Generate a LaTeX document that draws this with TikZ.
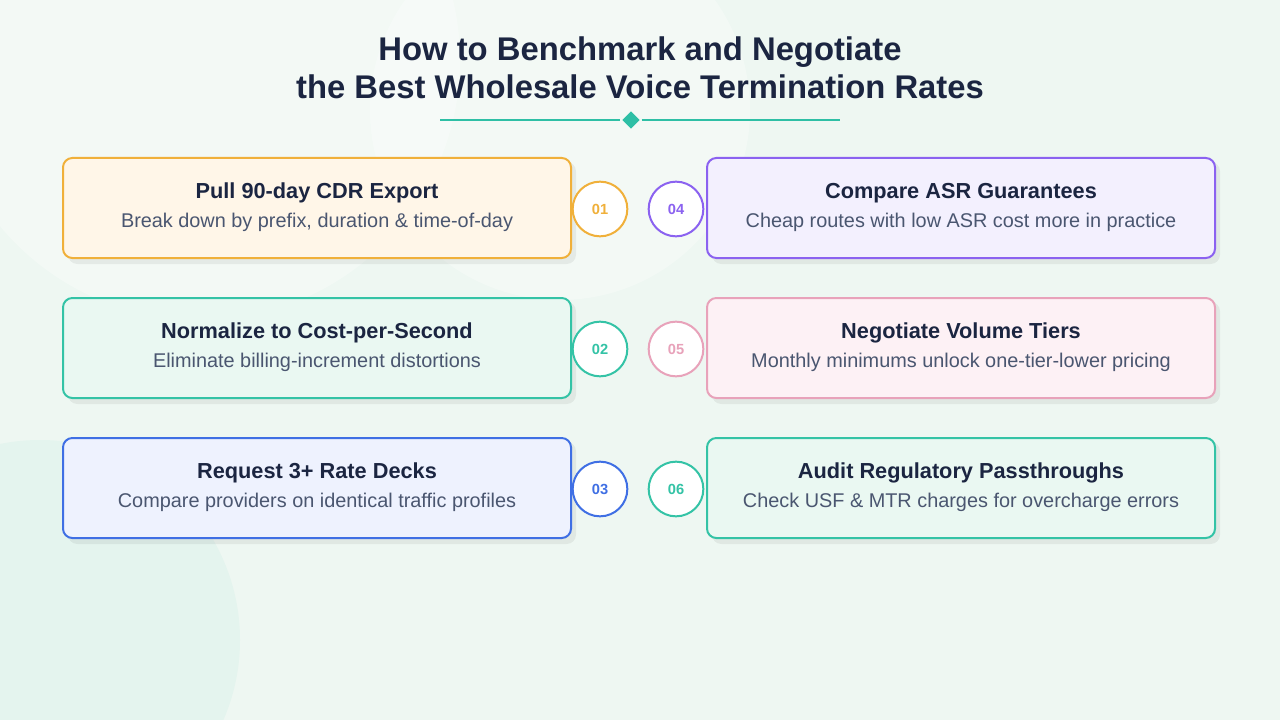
\documentclass[tikz,border=0pt]{standalone}
\usepackage{fontspec}
\setmainfont{Liberation Sans}
\usetikzlibrary{shapes.geometric}
\definecolor{bg}{HTML}{EEF7F2}
\definecolor{ttl}{HTML}{1B2541}
\definecolor{sub}{HTML}{4A5670}
\definecolor{teal}{HTML}{2EBFA5}
\definecolor{orc}{HTML}{F0B03A}\definecolor{orf}{HTML}{FFF6E8}
\definecolor{tec}{HTML}{34C3A6}\definecolor{tef}{HTML}{EAF8F2}
\definecolor{blc}{HTML}{3F6FE4}\definecolor{blf}{HTML}{EEF2FE}
\definecolor{puc}{HTML}{8B62F0}\definecolor{puf}{HTML}{F3F0FE}
\definecolor{pic}{HTML}{E8A2BA}\definecolor{pif}{HTML}{FDF1F5}
\tikzset{
 card/.style={draw=#1, line width=1.5pt, rounded corners=7pt, minimum width=381pt, minimum height=75pt, inner sep=0pt},
 num/.style={circle, draw=#1, line width=1.5pt, fill=white, minimum size=41pt, inner sep=0pt, text=#1, font=\bfseries\fontsize{11}{13}\selectfont},
 head/.style={font=\bfseries\fontsize{16.3}{19}\selectfont, text=ttl},
 desc/.style={font=\fontsize{14.9}{17}\selectfont, text=sub}
}
\begin{document}
\begin{tikzpicture}[x=0.75pt,y=-0.75pt]
\useasboundingbox (0,0) rectangle (1280,720);
\fill[bg] (0,0) rectangle (1280,720);
\fill[white,opacity=0.3] (560,110) circle (190);
\fill[white,opacity=0.3] (200,60) circle (260);
\fill[teal,opacity=0.05] (40,640) circle (200);
\node[font=\bfseries\fontsize{24.6}{28.5}\selectfont, text=ttl, align=center] (title) at (640,68) {How to Benchmark and Negotiate\\the Best Wholesale Voice Termination Rates};
\node[diamond, fill=teal, minimum size=13pt, inner sep=0pt] (dia) at (631,120) {};
\coordinate (l1) at (440,120); \coordinate (r1) at (840,120);
\draw[teal, line width=1.2pt] (l1) -- ([xshift=-8pt]dia.center);
\draw[teal, line width=1.2pt] ([xshift=8pt]dia.center) -- (r1);
\foreach \n/\x/\y/\c/\f/\h/\d in {
 a/317/208/orc/orf/{Pull 90-day CDR Export}/{Break down by prefix, duration \& time-of-day},
 b/317/348/tec/tef/{Normalize to Cost-per-Second}/{Eliminate billing-increment distortions},
 c/317/488/blc/blf/{Request 3+ Rate Decks}/{Compare providers on identical traffic profiles},
 d/961/208/puc/puf/{Compare ASR Guarantees}/{Cheap routes with low ASR cost more in practice},
 e/961/348/pic/pif/{Negotiate Volume Tiers}/{Monthly minimums unlock one-tier-lower pricing},
 f/961/488/tec/tef/{Audit Regulatory Passthroughs}/{Check USF \& MTR charges for overcharge errors}}{
 \fill[black,opacity=0.06,rounded corners=7pt] (\x-249,\y-46) rectangle (\x+259,\y+56);
 \node[card=\c, fill=\f] (\n) at (\x,\y) {};
 \node[head] (\n h) at (\x,\y-15) {\h};
 \node[desc] (\n d) at (\x,\y+14) {\d};
}
\foreach \n/\x/\y/\c/\t in {na/600/209/orc/01, nb/600/349/tec/02, nc/600/489/blc/03, nd/676/209/puc/04, ne/676/349/pic/05, nf/676/489/tec/06}{
 \node[num=\c] (\n) at (\x,\y) {\t};
}
\end{tikzpicture}
\end{document}
